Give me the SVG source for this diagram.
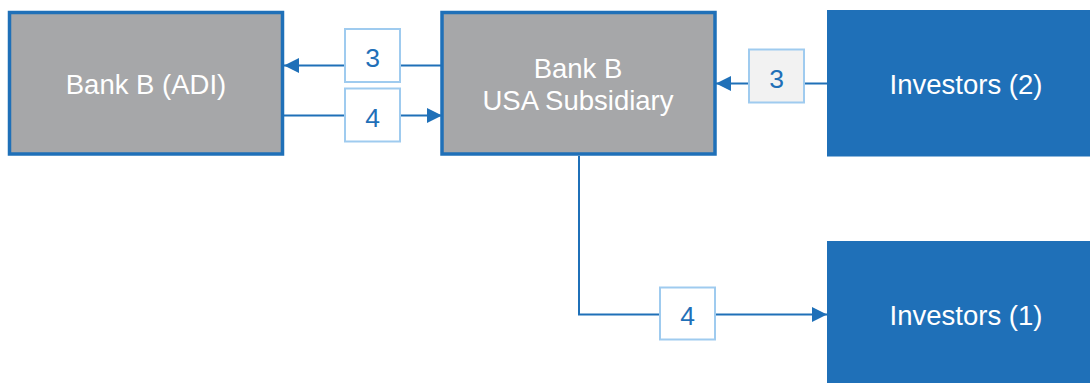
<svg xmlns="http://www.w3.org/2000/svg" width="1090" height="383" viewBox="0 0 1090 383">
<defs>
<style>
.node{fill:#a6a7a9;stroke:#1f70b8;stroke-width:3.5}
.inv{fill:#1f70b8}
.nt{fill:#fff;font-family:"Liberation Sans",Arial,sans-serif;font-size:27.5px;text-anchor:middle}
.lb{fill:#fff;stroke:#9fcbef;stroke-width:2}
.lt{fill:#1f70b8;font-family:"Liberation Sans",Arial,sans-serif;font-size:26.5px;text-anchor:middle}
.ln{fill:none;stroke:#1f70b8;stroke-width:2}
</style>
<marker id="ah" viewBox="0 0 10 10" refX="10" refY="5" markerWidth="15" markerHeight="15" markerUnits="userSpaceOnUse" orient="auto">
<path d="M0,0 L10,5 L0,10 z" fill="#1f70b8"/>
</marker>
</defs>
<g id="connectors">
<line class="ln" x1="442" y1="65.5" x2="284" y2="65.5" marker-end="url(#ah)"/>
<line class="ln" x1="284" y1="115.5" x2="442" y2="115.5" marker-end="url(#ah)"/>
<line class="ln" x1="827" y1="83.5" x2="716" y2="83.5" marker-end="url(#ah)"/>
<polyline class="ln" points="579,156 579,314.5 827,314.5" marker-end="url(#ah)"/>
<g id="lbl3a"><rect class="lb" x="345" y="29" width="55" height="53"/><text class="lt" x="372.5" y="67">3</text></g>
<g id="lbl4a"><rect class="lb" x="345" y="88.5" width="55" height="53"/><text class="lt" x="372.5" y="127">4</text></g>
<g id="lbl3b"><rect class="lb" x="749" y="49.5" width="55" height="53" style="fill:#f2f2f2"/><text class="lt" x="776.5" y="87.5">3</text></g>
<g id="lbl4b"><rect class="lb" x="660" y="287.5" width="55" height="52"/><text class="lt" x="687.5" y="325">4</text></g>
</g>
<g id="bankADI"><rect class="node" x="9.5" y="12.5" width="273" height="141.5"/><text class="nt" x="146" y="94">Bank B (ADI)</text></g>
<g id="bankUSA"><rect class="node" x="442" y="12.5" width="273" height="141.5"/><text class="nt" x="578" y="77.5">Bank B</text><text class="nt" x="578" y="109.5">USA Subsidiary</text></g>
<g id="inv2"><rect class="inv" x="827" y="10" width="263" height="146.5"/><text class="nt" x="966" y="94">Investors (2)</text></g>
<g id="inv1"><rect class="inv" x="827" y="241" width="263" height="142"/><text class="nt" x="966" y="325">Investors (1)</text></g>
</svg>
